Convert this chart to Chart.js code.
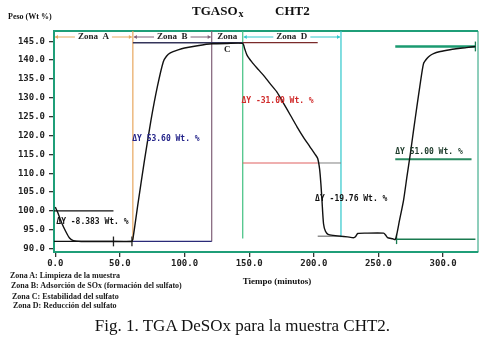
<!DOCTYPE html>
<html>
<head>
<meta charset="utf-8">
<script src="https://cdn.jsdelivr.net/npm/chart.js@4"></script>
<style>
  body { margin: 0; background: #fff; }
  #wrap { position: relative; width: 485px; height: 341px; overflow: hidden; }
  #chart { position: absolute; left: 0; top: 0; }
  .zona { position: absolute; font: bold 8px "Liberation Serif", serif; color: #1a1a1a; white-space: nowrap; }
  .pie { position: absolute; left: 0; width: 485px; top: 316px; text-align: center; font: 17px "Liberation Serif", serif; color: #111; }
</style>
</head>
<body>
<div id="wrap">
  <canvas id="chart" width="485" height="341"></canvas>
  <div class="zona" style="left:10px;top:271px">Zona A: Limpieza de la muestra</div>
  <div class="zona" style="left:11px;top:281px">Zona B: Adsorción de SOx (formación del sulfato)</div>
  <div class="zona" style="left:12px;top:292px">Zona C: Estabilidad del sulfato</div>
  <div class="zona" style="left:13px;top:301px">Zona D: Reducción del sulfato</div>
  <div class="pie">Fig. 1. TGA DeSOx para la muestra CHT2.</div>
</div>
<script>
// curva TGA (tiempo en minutos, peso en %)
const timeMin = [0, 2, 5, 8, 11, 14, 20, 40, 59, 60, 64, 68.8, 74, 79, 83.5, 86, 89, 95, 100, 110, 121, 133, 145,
  146.5, 148.3, 152, 156, 161, 166, 171.5, 176.6, 182, 187, 192, 197, 201, 203, 204.5, 205.5, 206.3, 207.5, 209, 211,
  215, 220, 226, 231, 232.5, 234, 240, 254, 255.5, 257, 261, 263, 264.3, 266, 269.4, 272, 274.6, 277, 279.7, 282,
  284.8, 287.5, 290, 292.6, 297, 303, 310, 318, 325];
const pesoPct = [101.0, 99.5, 96.8, 94.6, 92.8, 92.1, 91.9, 91.9, 91.9, 92.5, 102, 113, 124, 133, 139.5, 141.0, 141.9,
  142.7, 143.2, 143.8, 144.3, 144.4, 144.4, 143, 141.3, 139.5, 137.9, 136.0, 133.8, 131.5, 128.5, 125.3, 122.3, 119.5,
  117, 115, 113.9, 111, 107, 102.8, 96.6, 94.6, 93.8, 93.5, 93.3, 93.1, 92.9, 93.3, 94, 94.1, 94.1, 93.6, 92.9, 92.6,
  92.4, 94, 97, 102.8, 109, 115, 121, 127.6, 133, 139, 140.4, 141.2, 141.7, 142.2, 142.6, 143, 143.3, 143.6];

const xTicks = [0, 50, 100, 150, 200, 250, 300];
const yTicks = [90, 95, 100, 105, 110, 115, 120, 125, 130, 135, 140, 145];

// limites de zonas
const zoneNames = ["Zona  A", "Zona  B", "Zona", "Zona  D"];
const zoneEdges = [60, 121, 145, 221];
const guideLow = [92.3, 91.9, 92.7, 93.0];

// lineas de referencia horizontales
const levelY = [100, 91.9, 91.9, 144.6, 144.6, 112.7, 112.7, 93.3, 143.6, 113.7, 92.5];
const levelFrom = [-1, -1, 60, 60, 145, 145, 203, 203, 263, 263, 264];
const levelTo = [45, 60, 121, 145, 203, 203, 221, 221, 325, 322, 325];

// marcas verticales cortas
const markX = [45, 59.3, 264, 325];
const markY = [91.9, 91.9, 92.5, 143.6];

// etiquetas delta Y
const deltaText = ["ΔY -8.383 Wt. %", "ΔY 53.60 Wt. %", "ΔY -31.00 Wt. %", "ΔY -19.76 Wt. %", "ΔY 51.00 Wt. %"];
const deltaX = [0.8, 59.5, 144, 201, 263];
const deltaY = [97, 119, 129.1, 103.3, 115.6];

const frameColor = "#1f9e78";
const zoneColors = ["#e8a860", "#806078", "#40c080", "#30c8cc"];
const levelColors = ["#111", "#111", "#2a2a78", "#34345a", "#7a2a2a", "#e06060", "#808080", "#555", "#1a9a70", "#2a8a60", "#1a7a50"];
const levelWidths = [1.2, 1.2, 1.2, 1.5, 1.2, 1.2, 1, 1, 2.5, 2, 1.5];
const deltaColors = ["#111", "#24248a", "#d02828", "#111", "#1d3a2a"];

const datasets = [];
datasets.push({
  data: timeMin.map((t, i) => ({ x: t, y: pesoPct[i] })),
  borderColor: "#111", borderWidth: 1.4, pointRadius: 0, tension: 0.2
});
levelY.forEach((v, i) => datasets.push({
  data: [{ x: levelFrom[i], y: v }, { x: levelTo[i], y: v }],
  borderColor: levelColors[i], borderWidth: levelWidths[i], pointRadius: 0
}));
zoneEdges.forEach((t, i) => datasets.push({
  data: [{ x: t, y: 147.7 }, { x: t, y: guideLow[i] }],
  borderColor: zoneColors[i], borderWidth: 1.2, pointRadius: 0
}));
markX.forEach((t, i) => datasets.push({
  data: [{ x: t, y: markY[i] - 1.3 }, { x: t, y: markY[i] + 1.3 }],
  borderColor: i > 1 ? "#1a7a50" : "#222", borderWidth: 1.3, pointRadius: 0
}));

function arrowHead(ctx, x, y, dir) {
  ctx.beginPath();
  ctx.moveTo(x, y);
  ctx.lineTo(x + dir * 3, y - 2);
  ctx.lineTo(x + dir * 3, y + 2);
  ctx.closePath();
  ctx.fill();
}

const extras = {
  id: "extras",
  beforeDatasetsDraw(chart) {
    const { ctx, chartArea: a } = chart;
    ctx.save();
    ctx.strokeStyle = frameColor;
    ctx.lineWidth = 2;
    ctx.beginPath(); ctx.moveTo(a.left, a.top); ctx.lineTo(a.right, a.top); ctx.stroke();
    ctx.lineWidth = 1;
    ctx.beginPath(); ctx.moveTo(a.right, a.top); ctx.lineTo(a.right, a.bottom); ctx.stroke();
    ctx.restore();
  },
  afterDraw(chart) {
    const { ctx, chartArea: a, scales } = chart;
    const xs = scales.x, ys = scales.y;
    ctx.save();
    ctx.fillStyle = "#111";
    ctx.textBaseline = "middle";
    // titulo
    ctx.font = "bold 13px 'Liberation Serif', serif";
    ctx.textAlign = "left";
    ctx.fillText("TGASO", 192, 12);
    const w = ctx.measureText("TGASO").width;
    ctx.font = "bold 10px 'Liberation Serif', serif";
    ctx.fillText("x", 193 + w, 14);
    ctx.font = "bold 13px 'Liberation Serif', serif";
    ctx.fillText("CHT2", 275, 12);
    ctx.font = "bold 8px 'Liberation Serif', serif";
    ctx.fillText("Peso (Wt %)", 8, 17);
    ctx.font = "bold 9px 'Liberation Serif', serif";
    ctx.textAlign = "center";
    ctx.fillText("Tiempo (minutos)", 277, 282);

    // encabezados de zona
    ctx.font = "bold 9px 'Liberation Serif', serif";
    const hy = a.top + 6;
    const edges = [a.left].concat(zoneEdges.map(t => xs.getPixelForValue(t)));
    zoneNames.forEach((name, i) => {
      const l = edges[i], r = edges[i + 1];
      const mid = (l + r) / 2;
      ctx.fillStyle = "#222";
      ctx.fillText(name, mid, hy);
      if (name === "Zona") {
        ctx.fillText("C", mid, hy + 13);
        return;
      }
      const tw = ctx.measureText(name).width / 2 + 3;
      const col = zoneColors[i];
      ctx.strokeStyle = col; ctx.fillStyle = col; ctx.lineWidth = 1;
      ctx.beginPath();
      ctx.moveTo(l + 1, hy); ctx.lineTo(mid - tw, hy);
      ctx.moveTo(mid + tw, hy); ctx.lineTo(r - 1, hy);
      ctx.stroke();
      arrowHead(ctx, l + 1, hy, 1);
      arrowHead(ctx, r - 1, hy, -1);
    });

    // etiquetas delta
    ctx.font = "bold 8px 'DejaVu Sans Mono', monospace";
    ctx.textAlign = "left";
    deltaText.forEach((s, i) => {
      ctx.fillStyle = deltaColors[i];
      ctx.fillText(s, xs.getPixelForValue(deltaX[i]), ys.getPixelForValue(deltaY[i]));
    });
    ctx.restore();
  }
};

const tickFont = { family: "'DejaVu Sans Mono', monospace", size: 9, weight: "bold" };

new Chart(document.getElementById("chart").getContext("2d"), {
  type: "line",
  data: { datasets: datasets },
  options: {
    responsive: false,
    animation: false,
    layout: { padding: { top: 31, right: 7, bottom: 69, left: 0 } },
    plugins: { legend: { display: false }, tooltip: { enabled: false } },
    scales: {
      x: {
        type: "linear", min: -1, max: 327, bounds: "data",
        afterBuildTicks: s => { s.ticks = xTicks.map(v => ({ value: v })); },
        afterFit: s => { s.height = 20; },
        border: { color: frameColor, width: 2 },
        grid: { drawOnChartArea: false, tickLength: 5, color: "#333", lineWidth: 1.3 },
        ticks: { font: tickFont, color: "#222", padding: 1, maxRotation: 0, callback: v => v.toFixed(1) }
      },
      y: {
        type: "linear", min: 89.1, max: 147.7, bounds: "data",
        afterBuildTicks: s => { s.ticks = yTicks.map(v => ({ value: v })); },
        afterFit: s => { s.width = 54; },
        border: { color: frameColor, width: 2 },
        grid: { drawOnChartArea: false, tickLength: 5, color: "#333", lineWidth: 1.3 },
        ticks: { font: tickFont, color: "#222", padding: 4, callback: v => v.toFixed(1) }
      }
    }
  },
  plugins: [extras]
});
</script>
</body>
</html>
